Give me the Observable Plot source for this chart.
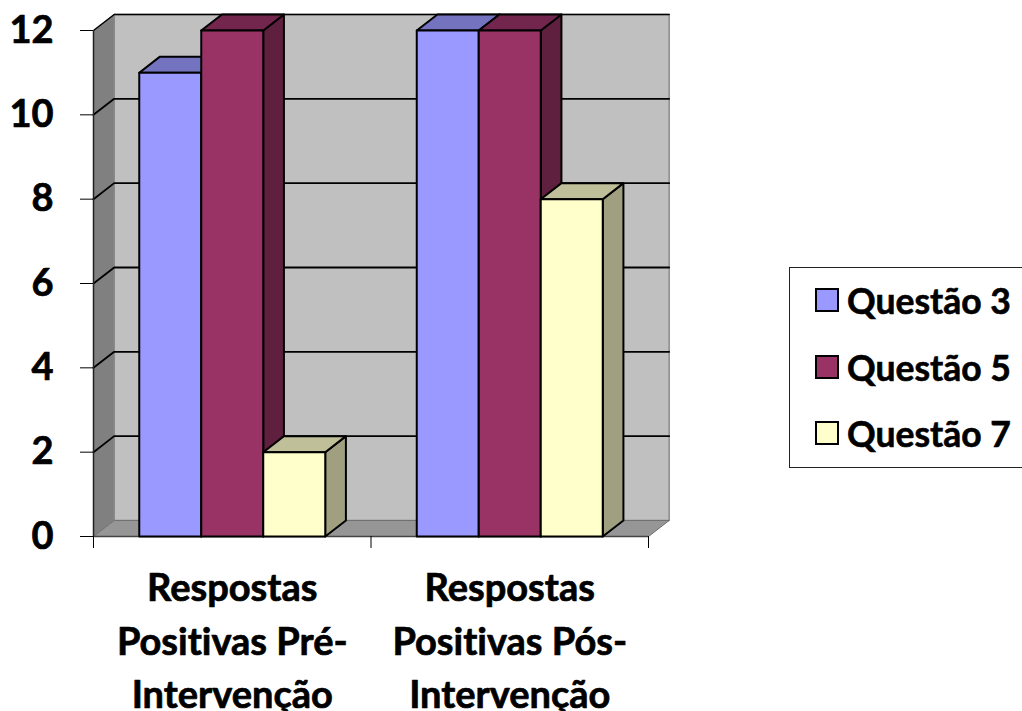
<!DOCTYPE html>
<html>
<head>
<meta charset="utf-8">
<script src="https://cdn.jsdelivr.net/npm/d3@7"></script>
<script src="https://cdn.jsdelivr.net/npm/@observablehq/plot@0.6"></script>
<style>
html,body{margin:0;padding:0;background:#fff;overflow:hidden;width:1022px;height:711px}
#chart{position:absolute;left:0;top:0}
#chart svg{display:block;overflow:visible}
#legend{position:absolute;left:789px;top:267px;width:260px;height:201px;box-sizing:border-box;border:1px solid #222;background:#fff;font:700 35.5px Lato,sans-serif;font-variant-ligatures:none;color:#000;-webkit-text-stroke:0.6px #000}
.row{position:absolute;left:25px;display:flex;align-items:center;height:24px;white-space:nowrap}
.sw{width:20px;height:20px;border:2.4px solid #000;margin-right:8px;flex:none}
</style>
</head>
<body>
<div id="chart"></div>
<div id="legend"></div>
<script>
const categories = ["Respostas\nPositivas Pré-\nIntervenção", "Respostas\nPositivas Pós-\nIntervenção"];
const seriesNames = ["Questão 3", "Questão 5", "Questão 7"];
const questao3 = [11, 12];
const questao5 = [12, 12];
const questao7 = [2, 8];
const seriesValues = [questao3, questao5, questao7];
const frontColors = ["#9999FF", "#993366", "#FFFFCC"];
const topColors = ["#7373BF", "#73264D", "#BFBF99"];
const sideColors = ["#5C5C99", "#5F203F", "#A0A080"];
const yTicks = [0, 2, 4, 6, 8, 10, 12];

// 3-D extrusion and cluster layout, in data units
const depthX = 0.0745, depthY = 0.38;
const barW = 0.2234, gap = (1 - 3 * barW) / 2;
const xMax = categories.length;

const poly = (pts, fill, stroke, strokeWidth) =>
  Plot.line(pts.map(([x, y]) => ({x, y})), {x: "x", y: "y", fill, stroke, strokeWidth, curve: "linear", strokeLinejoin: "round"});

const marks = [];
// walls and floor
marks.push(poly([[depthX, depthY], [xMax + depthX, depthY], [xMax + depthX, 12 + depthY], [depthX, 12 + depthY], [depthX, depthY]], "#C0C0C0", "#8a8a8a", 1.5));
marks.push(poly([[0, 0], [depthX, depthY], [depthX, 12 + depthY], [0, 12], [0, 0]], "#808080", "#8a8a8a", 1));
marks.push(poly([[0, 0], [xMax, 0], [xMax + depthX, depthY], [depthX, depthY], [0, 0]], "#969696", "#707070", 1));
// gridlines across left wall and back wall
for (const v of yTicks.slice(1)) {
  marks.push(poly([[0, v], [depthX, v + depthY], [xMax + depthX, v + depthY]], "none", "#000", v === 12 ? 1.5 : 1.8));
}
marks.push(Plot.ruleX([0], {y1: 0, y2: 12, stroke: "#222", strokeWidth: 1.5}));
marks.push(Plot.ruleY([0], {x1: 0, x2: xMax, stroke: "#444", strokeWidth: 1.5}));
// bars, left to right so nearer faces overlap correctly
categories.forEach((_, c) => {
  seriesValues.forEach((vals, s) => {
    const v = vals[c], x1 = c + gap + s * barW, x2 = x1 + barW;
    marks.push(poly([[x2, 0], [x2 + depthX, depthY], [x2 + depthX, v + depthY], [x2, v], [x2, 0]], sideColors[s], "#000", 2));
    marks.push(poly([[x1, v], [x2, v], [x2 + depthX, v + depthY], [x1 + depthX, v + depthY], [x1, v]], topColors[s], "#000", 2));
    marks.push(poly([[x1, 0], [x2, 0], [x2, v], [x1, v], [x1, 0]], frontColors[s], "#000", 2));
  });
});
// axes
marks.push(Plot.axisY({ticks: yTicks, tickSize: 13, tickPadding: 27, label: null, fontSize: 38, fontWeight: 700, stroke: "#000", textStroke: "#000", textStrokeWidth: 0.7, textStrokeOpacity: 1}));
marks.push(Plot.axisX({ticks: d3.range(xMax + 1), tickSize: 12, tickFormat: () => "", label: null, stroke: "#000"}));
marks.push(Plot.text(categories, {
  x: (_, i) => i + 0.5, y: () => 0, dy: 101, text: d => d, lineHeight: 1.408,
  fontSize: 38, fontWeight: 700, fill: "#000", stroke: "#000", strokeWidth: 0.7, textAnchor: "middle"
}));

const plot = Plot.plot({
  width: 1022, height: 711,
  marginLeft: 93, marginRight: 374, marginTop: 30, marginBottom: 175,
  style: {fontFamily: "Lato, sans-serif", fontVariantLigatures: "none", background: "transparent", overflow: "visible"},
  x: {type: "linear", domain: [0, xMax], axis: null},
  y: {type: "linear", domain: [0, 12], axis: null},
  marks
});
document.getElementById("chart").append(plot);

const legend = document.getElementById("legend");
const rowTops = [20, 87, 153];
seriesNames.forEach((name, i) => {
  const r = document.createElement("div");
  r.className = "row";
  r.style.top = rowTops[i] + "px";
  const sw = document.createElement("span");
  sw.className = "sw";
  sw.style.background = frontColors[i];
  r.append(sw, document.createTextNode(name));
  legend.append(r);
});
</script>
</body>
</html>
